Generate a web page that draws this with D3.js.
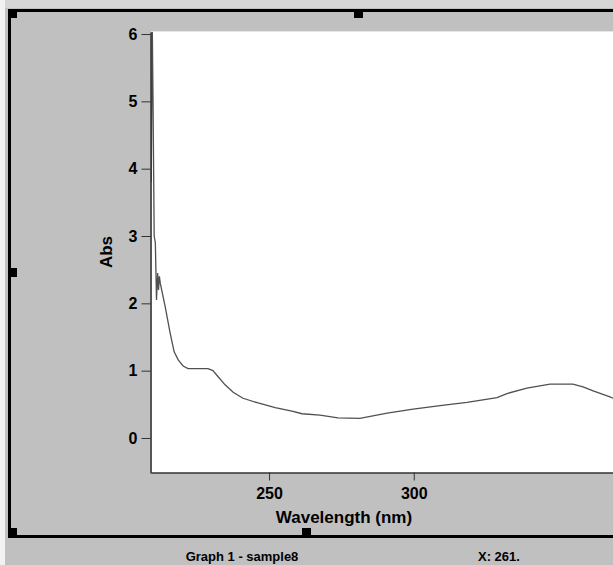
<!DOCTYPE html>
<html>
<head>
<meta charset="utf-8">
<script src="https://cdn.jsdelivr.net/npm/d3@7"></script>
<style>
  html, body { margin: 0; padding: 0; background: #c0c0c0; overflow: hidden; }
  svg { display: block; font-family: "Liberation Sans", Arial, sans-serif; font-weight: bold; }
</style>
</head>
<body>
<svg width="613" height="565"></svg>
<script>
// spectrum: wavelength (nm) and absorbance
const wavelength = [209.3, 209.6, 209.9, 210.3, 210.7, 211.1, 211.5, 211.8, 212.1, 212.4,
    214.1, 215.8, 217.2, 218.6, 220.3, 222.0, 228.9, 230.6, 232.4, 234.8, 237.6, 241.0,
    246.2, 252.1, 257.9, 261.4, 267.6, 273.8, 281.4, 290.8, 299.8, 309.1, 318.4, 328.8,
    332.2, 339.1, 347.1, 355.0, 358.5, 362.0, 367.8, 372.0, 378.0];
const absorbance = [3.8, 6.3, 5.0, 3.0, 2.9, 2.05, 2.45, 2.2, 2.4, 2.3,
    1.95, 1.56, 1.28, 1.16, 1.07, 1.03, 1.03, 1.0, 0.91, 0.79, 0.68, 0.59,
    0.52, 0.45, 0.40, 0.36, 0.34, 0.30, 0.29, 0.37, 0.43, 0.48, 0.53, 0.60,
    0.66, 0.74, 0.80, 0.80, 0.76, 0.70, 0.61, 0.54, 0.46];
const yTicks = [0, 1, 2, 3, 4, 5, 6];
const xTicks = [250, 300];

const svg = d3.select('svg');

// window chrome
svg.append('rect').attr('x', 0).attr('y', 0).attr('width', 613).attr('height', 8).attr('fill', '#d6d6d6');
svg.append('rect').attr('x', 0).attr('y', 0).attr('width', 5).attr('height', 565).attr('fill', '#f2f2f2');

const plot = { left: 151, top: 32, bottom: 473, right: 761 };

const x = d3.scaleLinear()
    .domain([209.2, 420])
    .range([plot.left, plot.right]);
const y = d3.scaleLinear()
    .domain([-0.52, 6.03])
    .range([plot.bottom, plot.top]);

svg.append('rect')
    .attr('x', plot.left + 1).attr('y', plot.top)
    .attr('width', plot.right - plot.left).attr('height', plot.bottom - plot.top)
    .attr('fill', '#fff');
svg.append('line')
    .attr('x1', plot.left).attr('x2', plot.right)
    .attr('y1', plot.top - 0.5).attr('y2', plot.top - 0.5)
    .attr('stroke', '#e6e6e6');

svg.append('clipPath').attr('id', 'clip')
    .append('rect')
    .attr('x', plot.left).attr('y', plot.top)
    .attr('width', plot.right - plot.left).attr('height', plot.bottom - plot.top);

const line = d3.line()
    .x((d, i) => x(wavelength[i]))
    .y(d => y(d));

svg.append('path')
    .datum(absorbance)
    .attr('clip-path', 'url(#clip)')
    .attr('fill', 'none')
    .attr('stroke', '#505050')
    .attr('stroke-width', 1.3)
    .attr('d', line);

// axes
const yAxis = svg.append('g')
    .attr('transform', 'translate(' + (plot.left - 0.5) + ',0)')
    .call(d3.axisLeft(y).tickValues(yTicks).tickFormat(d3.format('d'))
        .tickSize(9).tickPadding(4).tickSizeOuter(0));
const xAxis = svg.append('g')
    .attr('transform', 'translate(0,' + (plot.bottom - 0.5) + ')')
    .call(d3.axisBottom(x).tickValues(xTicks).tickFormat(d3.format('d'))
        .tickSize(8).tickPadding(7).tickSizeOuter(0));

[yAxis, xAxis].forEach(a => {
    a.select('.domain').attr('stroke', '#333').attr('stroke-width', 1.5);
    a.selectAll('.tick line').attr('stroke', '#333');
    a.selectAll('.tick text')
        .attr('fill', '#000')
        .style('font-size', '16px')
        .style('font-weight', 'bold')
        .style('font-family', '"Liberation Sans", Arial, sans-serif');
});

svg.append('text')
    .attr('x', 344).attr('y', 523)
    .attr('text-anchor', 'middle')
    .style('font-size', '17px')
    .text('Wavelength (nm)');

svg.append('text')
    .attr('transform', 'translate(112,252) rotate(-90)')
    .attr('text-anchor', 'middle')
    .style('font-size', '17px')
    .text('Abs');

// frame and selection handles
const frame = svg.append('g').attr('fill', '#000');
frame.append('rect').attr('x', 8).attr('y', 9).attr('width', 3).attr('height', 529);
frame.append('rect').attr('x', 8).attr('y', 9).attr('width', 605).attr('height', 3);
frame.append('rect').attr('x', 8).attr('y', 535).attr('width', 605).attr('height', 3);
[[8, 9], [354, 9], [8, 268], [8, 528], [302, 528]].forEach(p => {
    frame.append('rect').attr('x', p[0]).attr('y', p[1]).attr('width', 9).attr('height', 9);
});

// status bar
svg.append('text')
    .attr('x', 242).attr('y', 561)
    .attr('text-anchor', 'middle')
    .style('font-size', '13px')
    .text('Graph 1 - sample8');
svg.append('text')
    .attr('x', 478).attr('y', 561)
    .style('font-size', '13px')
    .text('X: 261.');
</script>
</body>
</html>
